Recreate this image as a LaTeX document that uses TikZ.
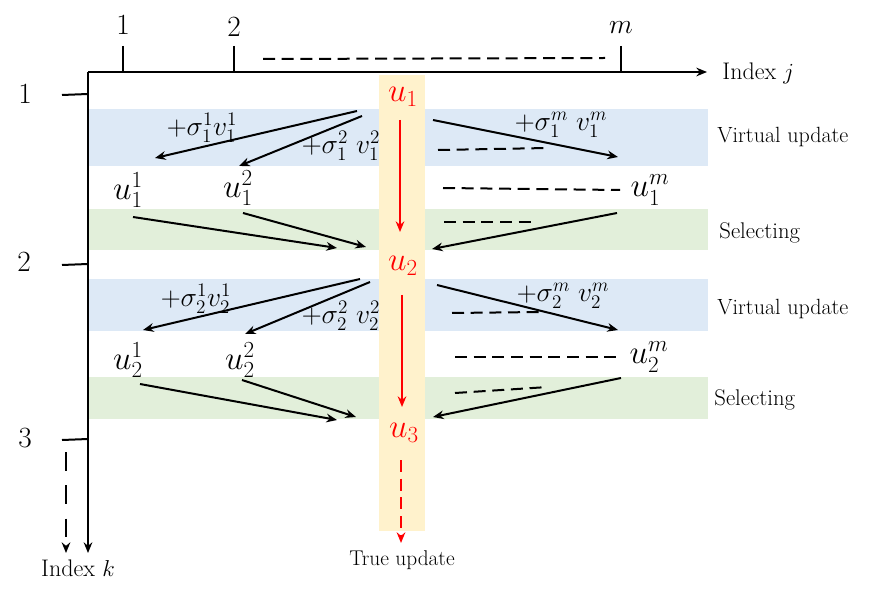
\documentclass[tikz,border=0pt]{standalone}
\usetikzlibrary{arrows.meta}
\definecolor{bandblue}{RGB}{221,233,246}
\definecolor{bandgreen}{RGB}{226,239,218}
\definecolor{colorange}{RGB}{255,242,204}
\definecolor{ured}{RGB}{255,0,0}
\begin{document}
\begin{tikzpicture}[x=0.75pt,y=-0.75pt,line width=1.5pt,
  arr/.style={-{Stealth[length=8pt,width=6.5pt]}},
  dsh/.style={dash pattern=on 9pt off 5pt},
  num/.style={font=\fontsize{22}{26}\selectfont},
  side/.style={font=\fontsize{16.5}{20}\selectfont, anchor=west},
  sel/.style={font=\fontsize{17}{20}\selectfont, anchor=west},
  axlab/.style={font=\fontsize{18}{21}\selectfont},
  ulab/.style={font=\fontsize{24}{28}\selectfont},
  slab/.style={font=\fontsize{19.5}{23}\selectfont, inner sep=0pt},
  redu/.style={font=\fontsize{26}{30}\selectfont, text=ured}]
\useasboundingbox (0,0) rectangle (888,598);
% bands
\fill[bandblue] (88,109) rectangle (708,166);
\fill[bandgreen] (88,209) rectangle (708,250);
\fill[bandblue] (88,279) rectangle (708,331);
\fill[bandgreen] (88,377) rectangle (708,419);
\fill[colorange] (379,75) rectangle (425,531);
% axes
\coordinate (O) at (88,72);
\coordinate (jend) at (707,72);
\coordinate (kend) at (88,553);
\draw[arr] (O) -- (jend);
\draw[arr] (O) -- (kend);
\node[axlab, anchor=west] (idxj) at (717,73) {Index $j$};
\node[axlab] (idxk) at (78,568) {Index $k$};
% top ticks
\coordinate (tj1) at (123,46); \coordinate (bj1) at (123,72);
\coordinate (tj2) at (234,46); \coordinate (bj2) at (234,72);
\coordinate (tjm) at (621,46); \coordinate (bjm) at (621,72);
\draw (tj1) -- (bj1); \draw (tj2) -- (bj2); \draw (tjm) -- (bjm);
\node[num] (nj1) at (123,25) {1};
\node[num] (nj2) at (234,27) {2};
\node[num] (njm) at (621,28) {$m$};
\coordinate (ds1) at (263,59); \coordinate (ds2) at (605,58);
\draw[dsh] (ds1) -- (ds2);
% left ticks
\coordinate (tk1) at (62,95); \coordinate (bk1) at (88,94);
\coordinate (tk2) at (62,265); \coordinate (bk2) at (88,264);
\coordinate (tk3) at (62,440); \coordinate (bk3) at (88,439);
\draw (tk1) -- (bk1); \draw (tk2) -- (bk2); \draw (tk3) -- (bk3);
\node[num] (nk1) at (25,94) {1};
\node[num] (nk2) at (24,262) {2};
\node[num] (nk3) at (25,438) {3};
\coordinate (kd1) at (66,452); \coordinate (kd2) at (66,553);
\draw[arr, dash pattern=on 14pt off 11pt] (kd1) -- (kd2);
% true update column
\node[redu] (u1) at (403,97) {$u_1$};
\node[redu] (u2) at (403,266) {$u_2$};
\node[redu] (u3) at (404,433) {$u_3$};
\coordinate (r1a) at (400,120); \coordinate (r1b) at (400,232);
\coordinate (r2a) at (402,295); \coordinate (r2b) at (402,407);
\coordinate (r3a) at (401,460); \coordinate (r3b) at (401,543);
\draw[arr, ured] (r1a) -- (r1b);
\draw[arr, ured] (r2a) -- (r2b);
\draw[arr, ured, dash pattern=on 9pt off 5pt] (r3a) -- (r3b);
\node[font=\fontsize{16}{19}\selectfont] (tu) at (402,560) {True update};
% side labels
\node[side] (vu1) at (712,137) {Virtual update};
\node[sel] (se1) at (714,233) {Selecting};
\node[side] (vu2) at (712,309) {Virtual update};
\node[sel] (se2) at (709,400) {Selecting};
% ---- step 1 virtual update
\coordinate (a1s) at (357,111); \coordinate (a1e) at (155,158);
\coordinate (a2s) at (362,116); \coordinate (a2e) at (239,166);
\coordinate (a3s) at (433,120); \coordinate (a3e) at (618,157);
\draw[arr] (a1s) -- (a1e);
\draw[arr] (a2s) -- (a2e);
\draw[arr] (a3s) -- (a3e);
\coordinate (d1s) at (438,150); \coordinate (d1e) at (548,148);
\draw[dsh] (d1s) -- (d1e);
\node[slab] (l11) at (202,128) {$+\sigma_1^1 v_1^1$};
\node[slab] (l12) at (341,146) {$+\sigma_1^2\ v_1^2$};
\node[slab] (l1m) at (561,125) {$+\sigma_1^m\ v_1^m$};
\node[ulab] (u11) at (128,190) {$u_1^1$};
\node[ulab] (u12) at (238,188) {$u_1^2$};
\node[ulab] (u1m) at (650,190) {$u_1^m$};
\coordinate (d2s) at (443,188); \coordinate (d2e) at (620,190);
\draw[dsh] (d2s) -- (d2e);
% ---- step 1 selecting
\coordinate (b1s) at (133,217); \coordinate (b1e) at (337,248);
\coordinate (b2s) at (243,213); \coordinate (b2e) at (366,247);
\coordinate (b3s) at (617,213); \coordinate (b3e) at (432,249);
\draw[arr] (b1s) -- (b1e);
\draw[arr] (b2s) -- (b2e);
\draw[arr] (b3s) -- (b3e);
\coordinate (d3s) at (444,222); \coordinate (d3e) at (532,222);
\draw[dsh] (d3s) -- (d3e);
% ---- step 2 virtual update
\coordinate (c1s) at (360,279); \coordinate (c1e) at (143,330);
\coordinate (c2s) at (370,282); \coordinate (c2e) at (245,334);
\coordinate (c3s) at (437,285); \coordinate (c3e) at (618,330);
\draw[arr] (c1s) -- (c1e);
\draw[arr] (c2s) -- (c2e);
\draw[arr] (c3s) -- (c3e);
\coordinate (d4s) at (452,313); \coordinate (d4e) at (540,312);
\draw[dsh] (d4s) -- (d4e);
\node[slab] (l21) at (196,299) {$+\sigma_2^1 v_2^1$};
\node[slab] (l22) at (341,316) {$+\sigma_2^2\ v_2^2$};
\node[slab] (l2m) at (563,296) {$+\sigma_2^m\ v_2^m$};
\node[ulab] (u21) at (128,360) {$u_2^1$};
\node[ulab] (u22) at (240,360) {$u_2^2$};
\node[ulab] (u2m) at (649,357) {$u_2^m$};
\coordinate (d5s) at (455,357); \coordinate (d5e) at (617,357);
\draw[dsh] (d5s) -- (d5e);
% ---- step 2 selecting
\coordinate (e1s) at (140,384); \coordinate (e1e) at (337,420);
\coordinate (e2s) at (242,380); \coordinate (e2e) at (356,417);
\coordinate (e3s) at (621,378); \coordinate (e3e) at (433,417);
\draw[arr] (e1s) -- (e1e);
\draw[arr] (e2s) -- (e2e);
\draw[arr] (e3s) -- (e3e);
\coordinate (d6s) at (455,393); \coordinate (d6e) at (548,387);
\draw[dsh] (d6s) -- (d6e);
\end{tikzpicture}
\end{document}
